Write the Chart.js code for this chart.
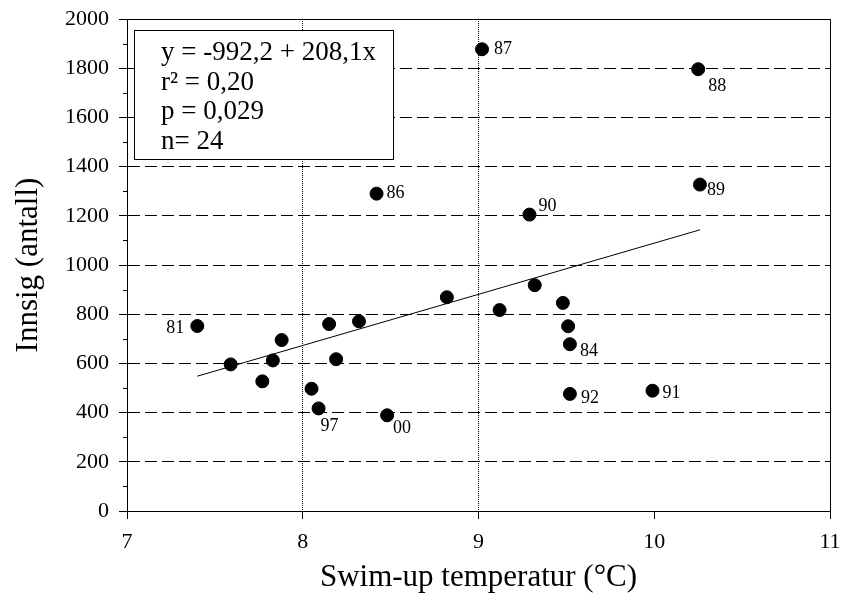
<!DOCTYPE html>
<html>
<head>
<meta charset="utf-8">
<script src="https://cdn.jsdelivr.net/npm/chart.js@4"></script>
<style>
html,body{margin:0;padding:0;background:#fff;}
#wrap{width:844px;height:606px;}
</style>
</head>
<body>
<div id="wrap"><canvas id="c" width="844" height="606"></canvas></div>
<script>
// ---- data ----
const temps   = [7.40, 7.59, 7.77, 7.83, 7.88, 8.05, 8.09, 8.15, 8.19, 8.32, 8.42, 8.48, 8.82, 9.02, 9.12, 9.29, 9.32, 9.48, 9.51, 9.52, 9.52, 9.99, 10.25, 10.26];
const innsig  = [752, 596, 527, 612, 695, 497, 417, 760, 617, 771, 1290, 389, 869, 1877, 817, 1205, 918, 846, 751, 678, 476, 489, 1796, 1327];
const years   = ['81', '', '', '', '', '', '97', '', '', '', '86', '00', '', '87', '', '90', '', '', '', '84', '92', '91', '88', '89'];
const fitX    = [7.40, 10.26];
const fitY    = [548, 1143];
const xTicks  = [7, 8, 9, 10, 11];
const yTicks  = [0, 200, 400, 600, 800, 1000, 1200, 1400, 1600, 1800, 2000];
const statsText = ['y = -992,2 + 208,1x', 'r\u00B2 = 0,20', 'p = 0,029', 'n= 24'];
const xTitle = 'Swim-up temperatur (\u00B0C)';
const yTitle = 'Innsig (antall)';

const FONT = '"Liberation Serif", "Times New Roman", serif';

const scatterPoints = temps.map((t, i) => ({x: t, y: innsig[i]}));
const fitPoints = fitX.map((t, i) => ({x: t, y: fitY[i]}));

// label placement relative to point (dx, dy, align)
const labelPlace = {
  '81': [-13, 2, 'right'], '86': [10, 0, 'left'], '87': [12, 0, 'left'],
  '88': [10, 17, 'left'], '89': [7, 6, 'left'], '90': [9, -8, 'left'],
  '84': [10, 7, 'left'], '92': [11, 4, 'left'], '91': [10, 3, 'left'],
  '97': [2, 18, 'left'], '00': [6, 13, 'left']
};

const decoPlugin = {
  id: 'deco',
  afterDatasetsDraw(chart) {
    const ctx = chart.ctx;
    const a = chart.chartArea;
    const ys = chart.scales.y;
    ctx.save();
    // frame
    ctx.strokeStyle = '#000';
    ctx.lineWidth = 1;
    ctx.strokeRect(Math.round(a.left) + 0.5, Math.round(a.top) + 0.5, Math.round(a.right - a.left), Math.round(a.bottom - a.top));
    // minor y ticks
    for (let v = 100; v < 2000; v += 200) {
      const py = Math.round(ys.getPixelForValue(v)) + 0.5;
      ctx.beginPath();
      ctx.moveTo(a.left - 4, py);
      ctx.lineTo(a.left, py);
      ctx.stroke();
    }
    // point labels
    const meta = chart.getDatasetMeta(0);
    ctx.fillStyle = '#000';
    ctx.font = '18px ' + FONT;
    ctx.textBaseline = 'middle';
    meta.data.forEach((el, i) => {
      const lab = years[i];
      if (!lab) return;
      const p = labelPlace[lab] || [10, 0, 'left'];
      ctx.textAlign = p[2];
      ctx.fillText(lab, el.x + p[0], el.y + p[1]);
    });
    // stats box
    const bx = 134, by = 30, bw = 259, bh = 129;
    ctx.fillStyle = '#fff';
    ctx.fillRect(bx, by, bw, bh);
    ctx.strokeRect(bx + 0.5, by + 0.5, bw, bh);
    ctx.fillStyle = '#000';
    ctx.font = '27px ' + FONT;
    ctx.textAlign = 'left';
    ctx.textBaseline = 'middle';
    statsText.forEach((s, i) => ctx.fillText(s, 161, 53 + i * 29.5));
    ctx.restore();
  }
};

new Chart(document.getElementById('c'), {
  type: 'scatter',
  data: {
    datasets: [
      {
        data: scatterPoints,
        backgroundColor: '#000',
        borderColor: '#000',
        pointRadius: 6.5,
        pointHoverRadius: 6.5
      },
      {
        type: 'line',
        data: fitPoints,
        borderColor: '#000',
        borderWidth: 1,
        pointRadius: 0,
        fill: false,
        showLine: true
      }
    ]
  },
  options: {
    responsive: false,
    devicePixelRatio: 1,
    animation: false,
    events: [],
    layout: {padding: {top: 19, right: 14, left: 0, bottom: 0}},
    plugins: {legend: {display: false}, tooltip: {enabled: false}},
    scales: {
      x: {
        type: 'linear',
        min: 7, max: 11,
        afterBuildTicks(s) { s.ticks = xTicks.map(v => ({value: v})); },
        afterFit(s) { s.height = 95; s.paddingLeft = 0; s.paddingRight = 0; },
        grid: {
          color: c => (c.tick && (c.tick.value === 8 || c.tick.value === 9)) ? '#000' : 'rgba(0,0,0,0)',
          tickColor: '#000',
          lineWidth: 1,
          tickLength: 8
        },
        border: {color: '#000', width: 1, dash: [1, 1]},
        ticks: {color: '#000', font: {family: FONT, size: 22}, padding: 10, maxRotation: 0, callback: v => String(v)},
        title: {display: true, text: xTitle, color: '#000', font: {family: FONT, size: 31}, padding: {top: 0, bottom: 10}}
      },
      y: {
        type: 'linear',
        min: 0, max: 2000,
        afterBuildTicks(s) { s.ticks = yTicks.map(v => ({value: v})); },
        afterFit(s) { s.width = 127; s.paddingTop = 0; s.paddingBottom = 0; },
        grid: {
          color: c => (c.tick && c.tick.value > 0 && c.tick.value < 2000) ? '#000' : 'rgba(0,0,0,0)',
          tickColor: '#000',
          lineWidth: 1,
          tickLength: 8
        },
        border: {color: '#000', width: 1, dash: [12, 5]},
        ticks: {color: '#000', font: {family: FONT, size: 22}, padding: 10, callback: v => String(v)},
        title: {display: true, text: yTitle, color: '#000', font: {family: FONT, size: 31}, padding: {top: 10, bottom: 0}}
      }
    }
  },
  plugins: [decoPlugin]
});
</script>
</body>
</html>
